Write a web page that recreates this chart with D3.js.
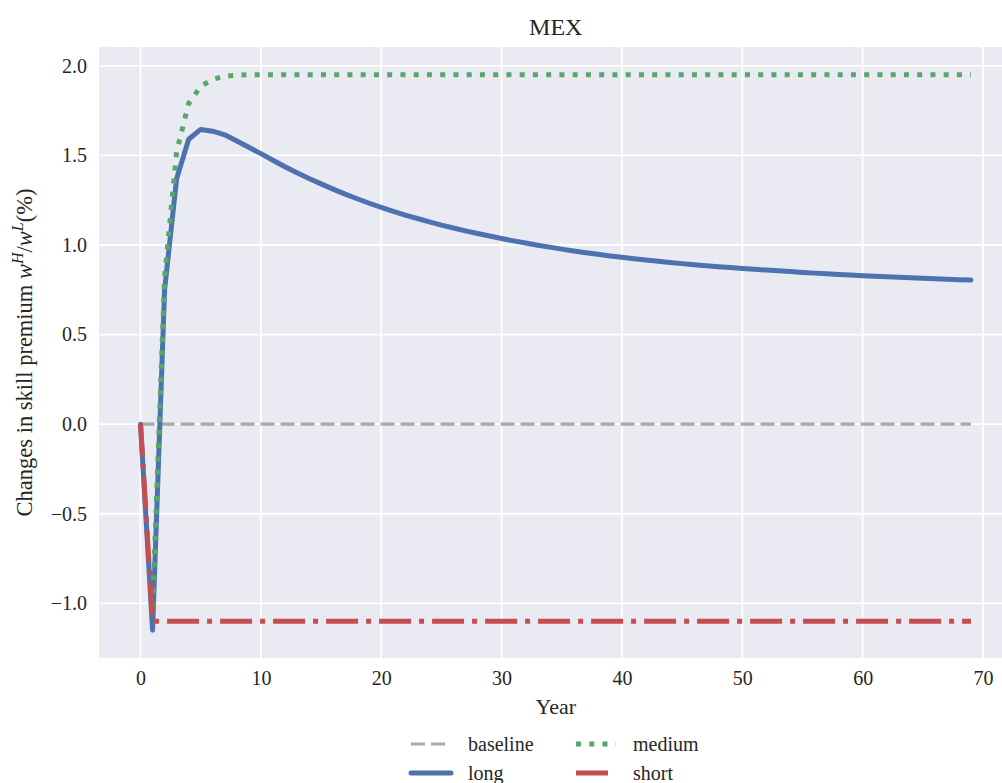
<!DOCTYPE html>
<html><head><meta charset="utf-8">
<script src="https://cdn.jsdelivr.net/npm/d3@7/dist/d3.min.js"></script>
<style>
body{margin:0;background:#fff}
svg{display:block}
text{font-family:"Liberation Serif","Times New Roman",serif;fill:#262626}
</style>
</head><body>
<svg id="c" width="1002" height="783"></svg>
<script>
const chartTitle = "MEX";
const years = [0,1,2,3,4,5,6,7,8,9,10,11,12,13,14,15,16,17,18,19,20,21,22,23,24,25,26,27,28,29,30,31,32,33,34,35,36,37,38,39,40,41,42,43,44,45,46,47,48,49,50,51,52,53,54,55,56,57,58,59,60,61,62,63,64,65,66,67,68,69];
const baselineVals = [0,0,0,0,0,0,0,0,0,0,0,0,0,0,0,0,0,0,0,0,0,0,0,0,0,0,0,0,0,0,0,0,0,0,0,0,0,0,0,0,0,0,0,0,0,0,0,0,0,0,0,0,0,0,0,0,0,0,0,0,0,0,0,0,0,0,0,0,0,0];
const longVals = [0,-1.15,0.75,1.37,1.59,1.645,1.635,1.615,1.58,1.545,1.51,1.473,1.437,1.403,1.371,1.341,1.312,1.284,1.258,1.233,1.21,1.188,1.167,1.148,1.129,1.111,1.095,1.079,1.064,1.05,1.036,1.023,1.011,0.999,0.988,0.977,0.967,0.957,0.948,0.939,0.931,0.923,0.916,0.909,0.902,0.896,0.89,0.884,0.879,0.874,0.869,0.864,0.86,0.856,0.852,0.847,0.843,0.839,0.836,0.832,0.829,0.826,0.823,0.82,0.817,0.814,0.812,0.809,0.806,0.804];
const mediumVals = [null,-1.02,0.82,1.52,1.79,1.885,1.925,1.942,1.948,1.95,1.95,1.95,1.95,1.95,1.95,1.95,1.95,1.95,1.95,1.95,1.95,1.95,1.95,1.95,1.95,1.95,1.95,1.95,1.95,1.95,1.95,1.95,1.95,1.95,1.95,1.95,1.95,1.95,1.95,1.95,1.95,1.95,1.95,1.95,1.95,1.95,1.95,1.95,1.95,1.95,1.95,1.95,1.95,1.95,1.95,1.95,1.95,1.95,1.95,1.95,1.95,1.95,1.95,1.95,1.95,1.95,1.95,1.95,1.95,1.95];
const shortVals = [0,-1.1,-1.1,-1.1,-1.1,-1.1,-1.1,-1.1,-1.1,-1.1,-1.1,-1.1,-1.1,-1.1,-1.1,-1.1,-1.1,-1.1,-1.1,-1.1,-1.1,-1.1,-1.1,-1.1,-1.1,-1.1,-1.1,-1.1,-1.1,-1.1,-1.1,-1.1,-1.1,-1.1,-1.1,-1.1,-1.1,-1.1,-1.1,-1.1,-1.1,-1.1,-1.1,-1.1,-1.1,-1.1,-1.1,-1.1,-1.1,-1.1,-1.1,-1.1,-1.1,-1.1,-1.1,-1.1,-1.1,-1.1,-1.1,-1.1,-1.1,-1.1,-1.1,-1.1,-1.1,-1.1,-1.1,-1.1,-1.1,-1.1];
const xTicks = [0,10,20,30,40,50,60,70];
const yTicks = [-1.0,-0.5,0.0,0.5,1.0,1.5,2.0];
const seriesNames = ["baseline","long","medium","short"];
const seriesColors = ["#aaaaaa","#4c72b0","#55a868","#c44e52"];

const W = 1002, H = 783;
const plot = {left: 99, top: 47, right: 1012.5, bottom: 658};
const svg = d3.select("#c");
const FONT = '"Liberation Serif","Times New Roman",serif';

// domain with 5% margins like matplotlib
const allVals = [].concat(longVals, mediumVals.filter(v => v !== null), shortVals, baselineVals);
const yMin = d3.min(allVals), yMax = d3.max(allVals);
const xMin = d3.min(years), xMax = d3.max(years);
const xPad = (xMax - xMin) * 0.05, yPad = (yMax - yMin) * 0.05;
const x = d3.scaleLinear().domain([xMin - xPad, xMax + xPad]).range([plot.left, plot.right]);
const y = d3.scaleLinear().domain([yMin - yPad, yMax + yPad]).range([plot.bottom, plot.top]);

svg.append("rect").attr("x", plot.left).attr("y", plot.top)
  .attr("width", plot.right - plot.left).attr("height", plot.bottom - plot.top)
  .attr("fill", "#eaeaf2");

svg.append("defs").append("clipPath").attr("id", "clip").append("rect")
  .attr("x", plot.left).attr("y", plot.top)
  .attr("width", plot.right - plot.left).attr("height", plot.bottom - plot.top);

// grid
const grid = svg.append("g");
grid.selectAll(".gx").data(xTicks).join("line")
  .attr("x1", d => x(d)).attr("x2", d => x(d)).attr("y1", plot.top).attr("y2", plot.bottom)
  .attr("stroke", "#fff").attr("stroke-width", 1.8);
grid.selectAll(".gy").data(yTicks).join("line")
  .attr("y1", d => y(d)).attr("y2", d => y(d)).attr("x1", plot.left).attr("x2", plot.right)
  .attr("stroke", "#fff").attr("stroke-width", 1.8);

// axes (no tick marks, seaborn darkgrid style)
const minus = s => s.replace("-", "\u2212");
const xAxis = d3.axisBottom(x).tickValues(xTicks).tickSize(0).tickPadding(13).tickFormat(d3.format("d"));
const yAxis = d3.axisLeft(y).tickValues(yTicks).tickSize(0).tickPadding(12).tickFormat(d => minus(d3.format(".1f")(d)));
const gx = svg.append("g").attr("transform", `translate(0,${plot.bottom})`).call(xAxis);
const gy = svg.append("g").attr("transform", `translate(${plot.left},0)`).call(yAxis);
[gx, gy].forEach(g => {
  g.attr("font-family", FONT);
  g.select(".domain").remove();
  g.selectAll("text").attr("font-family", FONT).attr("font-size", 20).attr("fill", "#262626");
});

// lines
const styles = [
  {vals: baselineVals, width: 3.2, dash: "14,6", cap: "butt"},
  {vals: longVals, width: 5, dash: null, cap: "round"},
  {vals: mediumVals, width: 5, dash: "5,8.25", cap: "butt"},
  {vals: shortVals, width: 5, dash: "32,8,5,8", cap: "butt"}
];
const line = d3.line().defined(d => d[1] !== null).x(d => x(d[0])).y(d => y(d[1]));
const lg = svg.append("g").attr("clip-path", "url(#clip)");
styles.forEach((s, i) => {
  lg.append("path").datum(years.map((yr, j) => [yr, s.vals[j]]))
    .attr("d", line).attr("fill", "none")
    .attr("stroke", seriesColors[i]).attr("stroke-width", s.width)
    .attr("stroke-linecap", s.cap).attr("stroke-linejoin", "round")
    .attr("stroke-dasharray", s.dash);
});

// title and labels
svg.append("text").attr("x", (plot.left + plot.right) / 2).attr("y", 35)
  .attr("text-anchor", "middle").attr("font-size", 24).text(chartTitle);
svg.append("text").attr("x", (plot.left + plot.right) / 2).attr("y", 714)
  .attr("text-anchor", "middle").attr("font-size", 22).text("Year");

const yl = svg.append("text").attr("transform", `translate(32,${(plot.top + plot.bottom) / 2}) rotate(-90)`)
  .attr("text-anchor", "middle").attr("font-size", 22.5);
yl.append("tspan").text("Changes in skill premium ");
yl.append("tspan").attr("font-style", "italic").text("w");
yl.append("tspan").attr("font-style", "italic").attr("font-size", 16).attr("dy", -9).text("H");
yl.append("tspan").attr("dy", 9).text("/");
yl.append("tspan").attr("font-style", "italic").text("w");
yl.append("tspan").attr("font-style", "italic").attr("font-size", 16).attr("dy", -9).text("L");
yl.append("tspan").attr("dy", 9).text("(%)");

// legend (column-major order like matplotlib ncol=2)
const legPos = [
  {lx: 411, ty: 744},
  {lx: 411, ty: 773},
  {lx: 576, ty: 744},
  {lx: 576, ty: 773}
];
const legTextX = [468, 468, 633, 633];
const leg = svg.append("g");
seriesNames.forEach((name, i) => {
  const p = legPos[i], s = styles[i];
  leg.append("line").attr("x1", p.lx).attr("x2", p.lx + 40).attr("y1", p.ty).attr("y2", p.ty)
    .attr("stroke", seriesColors[i]).attr("stroke-width", s.width)
    .attr("stroke-linecap", s.cap).attr("stroke-dasharray", s.dash);
  leg.append("text").attr("x", legTextX[i]).attr("y", p.ty + 7).attr("font-size", 20).text(name);
});
</script>
</body></html>
